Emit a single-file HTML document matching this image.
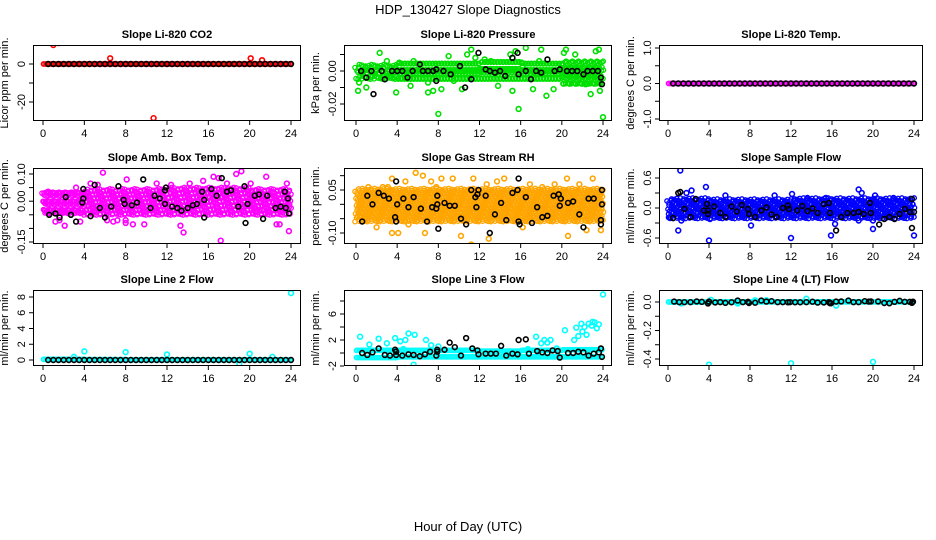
<!DOCTYPE html>
<html><head><meta charset="utf-8">
<style>
html,body{margin:0;padding:0;background:#fff;}
svg{display:block;}
text{font-family:"Liberation Sans",sans-serif;fill:#000;}
</style></head>
<body>
<svg id="chart" width="936" height="540" viewBox="0 0 936 540" xmlns="http://www.w3.org/2000/svg">
<text x="468" y="14" text-anchor="middle" font-size="13">HDP_130427  Slope Diagnostics</text>
<text x="468" y="531" text-anchor="middle" font-size="13">Hour of Day (UTC)</text>
</svg>
<script>
// ---------- data ----------
const xTicks = [0,4,8,12,16,20,24];
const halfHours = [0.5,1,1.5,2,2.5,3,3.5,4,4.5,5,5.5,6,6.5,7,7.5,8,8.5,9,9.5,10,10.5,11,11.5,12,12.5,13,13.5,14,14.5,15,15.5,16,16.5,17,17.5,18,18.5,19,19.5,20,20.5,21,21.5,22,22.5,23,23.5,24];
const zeros48 = [0,0,0,0,0,0,0,0,0,0,0,0,0,0,0,0,0,0,0,0,0,0,0,0,0,0,0,0,0,0,0,0,0,0,0,0,0,0,0,0,0,0,0,0,0,0,0,0];

const titles = ["Slope Li-820 CO2","Slope Li-820 Pressure","Slope Li-820 Temp.","Slope Amb. Box Temp.","Slope Gas Stream RH","Slope Sample Flow","Slope Line 2 Flow","Slope Line 3 Flow","Slope Line 4 (LT) Flow"];
const yTitles = ["Licor ppm per min.","kPa per min.","degrees C per min.","degrees C per min.","percent per min.","ml/min per min.","ml/min per min.","ml/min per min.","ml/min per min."];

const yTicks1=[0,-10,-20], yLabels1=["0","","-20"];
const yTicks2=[0.01,0,-0.01,-0.02], yLabels2=["","0.00","","-0.02"];
const yTicks3=[1,0.5,0,-0.5,-1], yLabels3=["1.0","","0.0","","-1.0"];
const yTicks4=[0.1,0.05,0,-0.05,-0.1,-0.15], yLabels4=["0.10","","0.00","","","-0.15"];
const yTicks5=[0.1,0.05,0,-0.05,-0.1], yLabels5=["","0.05","","","-0.10"];
const yTicks6=[0.6,0.3,0,-0.3,-0.6], yLabels6=["0.6","","0.0","","-0.6"];
const yTicks7=[8,6,4,2,0], yLabels7=["8","6","4","2","0"];
const yTicks8=[8,6,4,2,0,-2], yLabels8=["","6","","2","","-2"];
const yTicks9=[0,-0.1,-0.2,-0.3,-0.4], yLabels9=["0.0","","-0.2","","-0.4"];

const bandLo1=[-1,-1,-1,-1,-1,-1], bandHi1=[1,1,1,1,1,1];
const bandLo2=[-0.004,-0.004,-0.004,-0.004,-0.004,-0.007], bandHi2=[0.003,0.004,0.004,0.005,0.004,0.005];
const bandLo3=[-0.02,-0.02,-0.02,-0.02,-0.02,-0.02], bandHi3=[0.02,0.02,0.02,0.02,0.02,0.02];
const bandLo4=[-0.045,-0.045,-0.045,-0.045,-0.045,-0.045], bandHi4=[0.035,0.04,0.04,0.045,0.045,0.04];
const bandLo5=[-0.055,-0.055,-0.055,-0.055,-0.055,-0.055], bandHi5=[0.05,0.05,0.05,0.05,0.05,0.05];
const bandLo6=[-0.18,-0.18,-0.18,-0.18,-0.18,-0.18], bandHi6=[0.17,0.15,0.15,0.17,0.17,0.17];
const bandLo7=[-0.2,-0.2,-0.2,-0.2,-0.2,-0.2], bandHi7=[0.35,0.3,0.25,0.25,0.25,0.25];
const bandLo8=[-0.7,-0.6,-0.6,-0.6,-0.6,-0.6], bandHi8=[0.4,0.4,0.4,0.3,0.4,0.5];
const bandLo9=[-0.012,-0.01,-0.01,-0.01,-0.01,-0.01], bandHi9=[0.012,0.012,0.012,0.012,0.012,0.012];

const outX1=[1,1.5,6.5,10.7,20.1,21.2], outY1=[10,11,3,-28.5,3,2];
const outX2=[0.2,0.3,1,2.3,3,3.4,3.9,4.2,4.8,5.3,5.6,7,7,7.5,8,8.3,9,9.5,10.3,10.8,11.2,11.6,12.5,13.8,15,15.2,15.5,15.8,16.5,17.2,17.8,18,18.5,19.2,20.2,20.4,21.3,22.3,22.8,23.3,23.6,23.7,24,13.1,16.2,17.5];
const outY2=[-0.012,-0.007,-0.01,0.011,0.006,-0.003,-0.013,0.005,-0.004,-0.009,0.006,-0.007,-0.013,-0.012,-0.026,-0.011,0.009,-0.006,-0.011,0.01,0.013,0.008,0.007,-0.009,0.01,-0.012,0.012,-0.023,0.014,-0.011,0.006,0.013,-0.015,-0.011,0.011,0.013,0.01,-0.008,-0.014,0.012,0.013,-0.012,-0.028,0.006,0.003,-0.002];
const outX3=[], outY3=[];
const outX4=[0.5,1.2,1.6,2.1,2.6,3.6,3.2,4.6,5.3,5.8,6.2,7.2,8.1,8,8,8.7,9.8,11,12.4,13.3,13.6,14.2,15.5,16.5,17,17.2,17.8,18.7,19.2,20.1,21.2,21.6,22.6,22.9,23.6,23.8,1.8,6.8];
const outY4=[0.035,-0.075,-0.07,-0.09,0.03,-0.075,0.05,0.065,0.06,0.105,-0.07,-0.07,0.08,-0.07,-0.08,-0.085,-0.085,0.065,0.06,-0.09,-0.115,0.065,0.075,0.09,0.085,-0.145,0.065,0.1,0.11,0.065,-0.035,0.09,-0.085,-0.085,0.065,-0.11,-0.04,-0.075];
const outX5=[0.4,1.2,2,2.6,3.1,3.5,3.5,4.1,4.8,5.1,5.8,6.5,6.7,7.3,8.3,9.4,10.2,11.2,11.4,12.7,12.9,13.7,14.4,16.2,16.9,18.1,20.5,20.6,21.7,22.4,23,23.8,7.8,19.3];
const outY5=[-0.04,0.06,-0.08,0.06,0.06,0.09,-0.1,-0.1,0.08,-0.07,0.11,0.1,-0.1,0.08,0.09,0.09,-0.11,-0.14,0.09,0.07,-0.12,0.08,0.09,-0.08,0.07,0.06,0.09,-0.11,0.07,-0.09,0.09,-0.09,0.06,0.07];
const outX6=[0.2,1,1.2,1.3,1.8,2.3,3.7,4,4.1,5.6,6.1,8.1,10.4,12,12.1,13.6,15.4,15.9,16.3,18.6,18.9,18.6,20,20,20.2,24,22,21.2];
const outY6=[-0.2,-0.45,0.75,-0.25,0.3,0.35,0.42,-0.65,-0.22,0.25,-0.15,-0.35,0.25,-0.6,0.28,0.2,0.2,-0.55,-0.32,0.37,0.3,-0.25,-0.42,-0.25,0.25,-0.55,0.2,-0.15];
const outX7=[4,8,12,20,24,19,3,22.2], outY7=[1.1,1,0.7,0.8,8.5,-0.5,0.4,0.4];
const outX8=[0.4,1.3,2.2,3,3.8,4.3,4.8,5.1,5.7,5.6,4.6,6.8,7.3,8,17.5,18,18.3,18.6,18.9,20.3,21.2,21.4,21.6,21.9,22,22.2,22.4,22.6,22.9,23,23.2,23.4,23.6,24,19.5,16.7];
const outY8=[2.5,1.3,2.2,1.5,2.3,1.8,2,3,2.8,-1.8,0.6,2,1.2,1,2.5,1.5,2,1.6,2,3.5,2,3.9,2.6,4.5,3.3,4,2.8,4.5,4.2,4.8,4.7,3.8,4.4,9,0.7,0.6];
const outX9=[4,12,20,16.4,13.5,4.2,1.3,9.6,6.8,8.5], outY9=[-0.44,-0.43,-0.42,-0.025,0.023,0.015,-0.01,0.013,-0.01,0.012];

const blkX1=halfHours, blkY1=zeros48;
const blkX2=[0.5,1,1.5,1.7,2.5,2.8,3.5,4,4.5,5,5.5,6.2,6.5,7,7.5,7.8,7.8,8.5,9.2,10.1,10.6,11.2,11.9,12.6,13,13.5,14,14.5,15.2,15.7,15.8,16.5,17,17.5,18,18.6,19.3,19.8,20.5,21,21.5,22.1,22.5,23,23.5,23.8,23.9];
const blkY2=[0,-0.004,0,-0.014,0,-0.005,0,0,0,-0.004,0,0.004,0,0,0,0.001,-0.006,0,-0.002,0.003,-0.01,-0.005,0.011,0.001,0,-0.001,0,-0.003,0.008,0.011,-0.002,0,-0.005,0,-0.001,0.007,0,0.001,0,0,0,-0.002,0,0,0,-0.004,-0.008];
const blkX3=halfHours, blkY3=zeros48;
const blkX4=[0.6,1.2,1.6,2.2,2.7,3.2,3.9,3.9,3.8,4.6,5,5.5,6,6.6,7.3,7.8,7.9,8.6,9.1,9.7,10.4,10.8,11.3,11.8,11.9,11.8,12.5,13,13.4,14,14.5,14.9,15.4,15.6,15.6,16.3,16.8,17.3,17.8,18.2,18.9,19.5,19.6,19.8,20.5,20.9,21.3,21.7,22.5,23,23.4,23.5,23.7,23.8];
const blkY4=[-0.05,-0.045,-0.06,0.015,-0.05,-0.075,0.045,0.01,-0.005,-0.055,0.06,-0.025,-0.06,-0.02,0.055,0.005,-0.01,-0.015,-0.005,0.08,-0.025,0.02,0.01,0.04,0.05,-0.01,-0.02,-0.025,-0.035,-0.025,-0.015,-0.01,0.035,0.005,-0.06,0.045,0.02,0.085,0.035,0.04,-0.02,0.055,-0.08,-0.01,0.02,0.025,-0.065,0.02,-0.025,-0.02,0.035,-0.025,0.01,-0.045];
const blkX5=[0.6,1.1,1.6,2.2,2.7,3.2,3.8,3.9,3.9,4,4.6,5.1,5.6,6.3,6.9,7.4,7.8,7.9,7.9,8,8.6,9.1,9.6,10.2,10.7,11.2,11.6,11.8,11.9,11.7,12.6,13,13.5,14.1,14.6,15.2,15.7,15.8,15.8,15.9,16.5,17.1,17.6,18.1,18.6,19.2,19.7,19.9,19.8,20.6,21.1,21.7,22.1,22.6,23.1,23.8,23.8,23.9,23.9];
const blkY5=[-0.06,0.03,0,0.04,0.03,0.02,-0.045,-0.06,0.08,0,0.02,-0.01,0.025,-0.015,-0.06,-0.01,-0.015,0,0.03,-0.085,0.005,-0.005,-0.005,-0.05,-0.07,0.05,0.025,0.035,0.05,-0.01,0.03,-0.1,-0.035,0.005,-0.055,0.04,0.05,0.09,-0.06,-0.07,0.025,-0.065,-0.01,-0.045,-0.04,0.03,0.035,0.02,-0.005,0.005,0.01,-0.035,-0.08,0.02,0.02,-0.055,-0.07,0,0.05];
const blkX6=[0.5,1,1.2,1.6,2.2,2.7,3.5,3.8,3.9,3.9,4.5,5.1,5.6,6.2,6.7,7.2,7.8,7.9,8.5,9.1,9.6,10.1,10.6,11.2,11.7,11.8,12.6,13.1,13.6,14.1,14.6,15.2,15.7,15.8,16.4,16.9,17.5,18.1,18.6,19.1,19.7,19.8,20.6,21.1,21.6,22.1,22.6,23.1,23.6,23.8,23.8,24];
const blkY6=[-0.2,0.3,0.32,-0.02,-0.18,0.18,-0.05,0.08,-0.05,-0.12,0.03,-0.1,-0.18,0.03,-0.07,0.06,-0.02,-0.12,-0.18,-0.05,0.01,-0.13,-0.18,0,0.05,-0.02,-0.05,0.04,-0.06,-0.01,-0.1,0.08,0.1,-0.1,-0.45,-0.18,-0.1,-0.1,-0.08,-0.12,0.1,-0.1,-0.33,-0.22,-0.18,-0.22,-0.12,-0.02,-0.08,0.18,-0.4,-0.08];
const blkX7=halfHours, blkY7=zeros48;
const blkX8=[0.6,1.1,1.6,2.2,2.8,3.3,3.8,3.9,3.9,4.5,5.1,5.6,6.2,6.7,7.2,7.8,7.9,7.9,8.6,9.1,9.6,10.2,10.7,11.3,11.8,11.9,12.6,13.1,13.6,14.1,14.6,15.2,15.7,15.8,16.5,16.8,17.6,18.1,18.6,19.1,19.6,19.8,20.6,21.1,21.6,22.1,22.6,23.1,23.6,23.8,23.9];
const blkY8=[0,-0.3,0.1,0.7,-0.3,-0.4,0.5,0.2,-0.3,-0.4,-0.2,-0.3,-0.5,-0.2,0.2,-0.4,0.2,0.5,0.5,1.6,0.9,-0.4,2.3,0.7,0.4,-0.2,-0.1,-0.1,-0.1,1.1,-0.4,-0.1,-0.2,2,2.1,-0.1,0.3,0.1,0,0.4,0.3,-0.7,0,0,0.2,0.1,-0.4,-0.1,0.1,0.7,-0.6];
const blkX9=[0.6,1.1,1.6,2.2,2.8,3.3,3.9,3.9,4,4.6,5.1,5.6,6.2,6.8,7.3,7.8,7.9,8.5,9.1,9.6,10.1,10.7,11.2,11.7,11.9,12.4,12.9,13.5,14.1,14.6,15.2,15.7,15.8,15.9,16.4,16.9,17.6,18.1,18.6,19.2,19.6,19.8,20.5,21.1,21.6,22.1,22.6,23.1,23.6,23.8,23.9];
const blkY9=[0.003,-0.001,-0.001,-0.001,0.004,0.001,-0.008,-0.01,0.003,-0.003,-0.001,-0.006,-0.002,0.01,-0.001,0.001,-0.007,-0.005,0.01,0.003,0.006,-0.001,-0.001,-0.002,-0.001,-0.002,-0.002,-0.001,0.002,-0.004,-0.003,-0.001,-0.008,-0.009,0.003,0.004,0.01,-0.001,-0.001,0.006,0.003,0.004,0.004,-0.007,-0.009,0.001,0.008,0.001,0.001,-0.006,0.002];

// ---------- layout ----------
const cols=[{x0:43,x24:291,bl:33,br:301},{x0:356,x24:603,bl:344,br:612},{x0:668,x24:914,bl:659,br:923}];
const rows=[{t:45,b:121},{t:168,b:244},{t:290,b:366}];
const ycal=[[0,64,-20,102],[0,71,-0.02,104],[1,48,-1,119],[0.1,174,-0.15,242],[0.05,190,-0.1,233],[0.6,178,-0.6,238],[8,297,0,360],[6,314,-2,366],[0,302,-0.4,359]];
const colors=["#ff0000","#00e000","#ff00ff","#ff00ff","#ffa500","#0000ff","#00ffff","#00ffff","#00ffff"];
const jitter=[0,1.5,-1,1,-1.5,0.5,-0.5,1.2];

const yTicksAll=[yTicks1,yTicks2,yTicks3,yTicks4,yTicks5,yTicks6,yTicks7,yTicks8,yTicks9];
const yLabelsAll=[yLabels1,yLabels2,yLabels3,yLabels4,yLabels5,yLabels6,yLabels7,yLabels8,yLabels9];
const bandLoAll=[bandLo1,bandLo2,bandLo3,bandLo4,bandLo5,bandLo6,bandLo7,bandLo8,bandLo9];
const bandHiAll=[bandHi1,bandHi2,bandHi3,bandHi4,bandHi5,bandHi6,bandHi7,bandHi8,bandHi9];
const outXAll=[outX1,outX2,outX3,outX4,outX5,outX6,outX7,outX8,outX9];
const outYAll=[outY1,outY2,outY3,outY4,outY5,outY6,outY7,outY8,outY9];
const blkXAll=[blkX1,blkX2,blkX3,blkX4,blkX5,blkX6,blkX7,blkX8,blkX9];
const blkYAll=[blkY1,blkY2,blkY3,blkY4,blkY5,blkY6,blkY7,blkY8,blkY9];

const NS="http://www.w3.org/2000/svg";
const svg=document.getElementById('chart');
function mk(tag,attrs,parent){const e=document.createElementNS(NS,tag);for(const k in attrs)e.setAttribute(k,attrs[k]);(parent||svg).appendChild(e);return e;}

for(let p=0;p<9;p++){
  const c=cols[p%3], r=rows[Math.floor(p/3)];
  const [va,ya,vb,yb]=ycal[p];
  const X=h=>c.x0+(h/24)*(c.x24-c.x0);
  const Y=v=>ya+(v-va)*(yb-ya)/(vb-va);
  const g=mk('g',{});
  
  
  const clip=mk('clipPath',{id:'cp'+p},g);
  mk('rect',{x:c.bl,y:r.t,width:c.br-c.bl,height:r.b-r.t},clip);

  const title=mk('text',{x:(c.bl+c.br)/2,y:r.t-7,'text-anchor':'middle','font-size':'11','font-weight':'bold'},g);
  title.textContent=titles[p];
  
  

  const marks=mk('g',{'clip-path':'url(#cp'+p+')',fill:'none'},g);
  
  
  let idx=0;
  for(let h=0.05;h<=24;h+=0.15){
    const blk=Math.min(5,Math.floor(h/4));
    const y1=Y(bandHiAll[p][blk]), y2=Y(bandLoAll[p][blk]);
    const n=Math.max(1,Math.round((y2-y1)/3.5));
    for(let k=0;k<n;k++){
      idx++;
      const yy=n===1?(y1+y2)/2:y1+(y2-y1)*k/(n-1)+(n>2?jitter[idx%8]:0);
      const pt=mk('circle',{cx:X(h)+(n>2?jitter[(idx+3)%8]:0),cy:yy,r:2.2,stroke:colors[p],'stroke-width':1.3},marks);
      
      
    }
  }
  outXAll[p].forEach((h,i)=>{
    const pt=mk('circle',{cx:X(h),cy:Y(outYAll[p][i]),r:2.4,stroke:colors[p],'stroke-width':1.6},marks);
    
    
  });
  blkXAll[p].forEach((h,i)=>{
    const pt=mk('circle',{cx:X(h),cy:Y(blkYAll[p][i]),r:2.4,stroke:'#000','stroke-width':1.6},marks);
    
    
  });

  const box=mk('rect',{x:c.bl+0.5,y:r.t+0.5,width:c.br-c.bl-1,height:r.b-r.t-1,fill:'none',stroke:'#000','stroke-width':1},g);
  
  

  xTicks.forEach(t=>{
    mk('line',{x1:X(t),x2:X(t),y1:r.b,y2:r.b+4,stroke:'#000'},g);
    const tl=mk('text',{x:X(t),y:r.b+16,'text-anchor':'middle','font-size':'11'},g);
    tl.textContent=t;
    
    
  });
  yTicksAll[p].forEach((t,i)=>{
    const yy=Y(t);
    mk('line',{x1:c.bl-4,x2:c.bl,y1:yy,y2:yy,stroke:'#000'},g);
    if(yLabelsAll[p][i]){
      const tx=c.bl-8;
      const tl=mk('text',{x:tx,y:yy,'text-anchor':'middle','font-size':'11',transform:'rotate(-90 '+tx+' '+yy+')'},g);
      tl.textContent=yLabelsAll[p][i];
      
      
    }
  });
  const yc=(r.t+r.b)/2, yx=c.bl-25;
  const yt=mk('text',{x:yx,y:yc,'text-anchor':'middle','font-size':'11',transform:'rotate(-90 '+yx+' '+yc+')'},g);
  yt.textContent=yTitles[p];
  
  
}
</script>
</body></html>
